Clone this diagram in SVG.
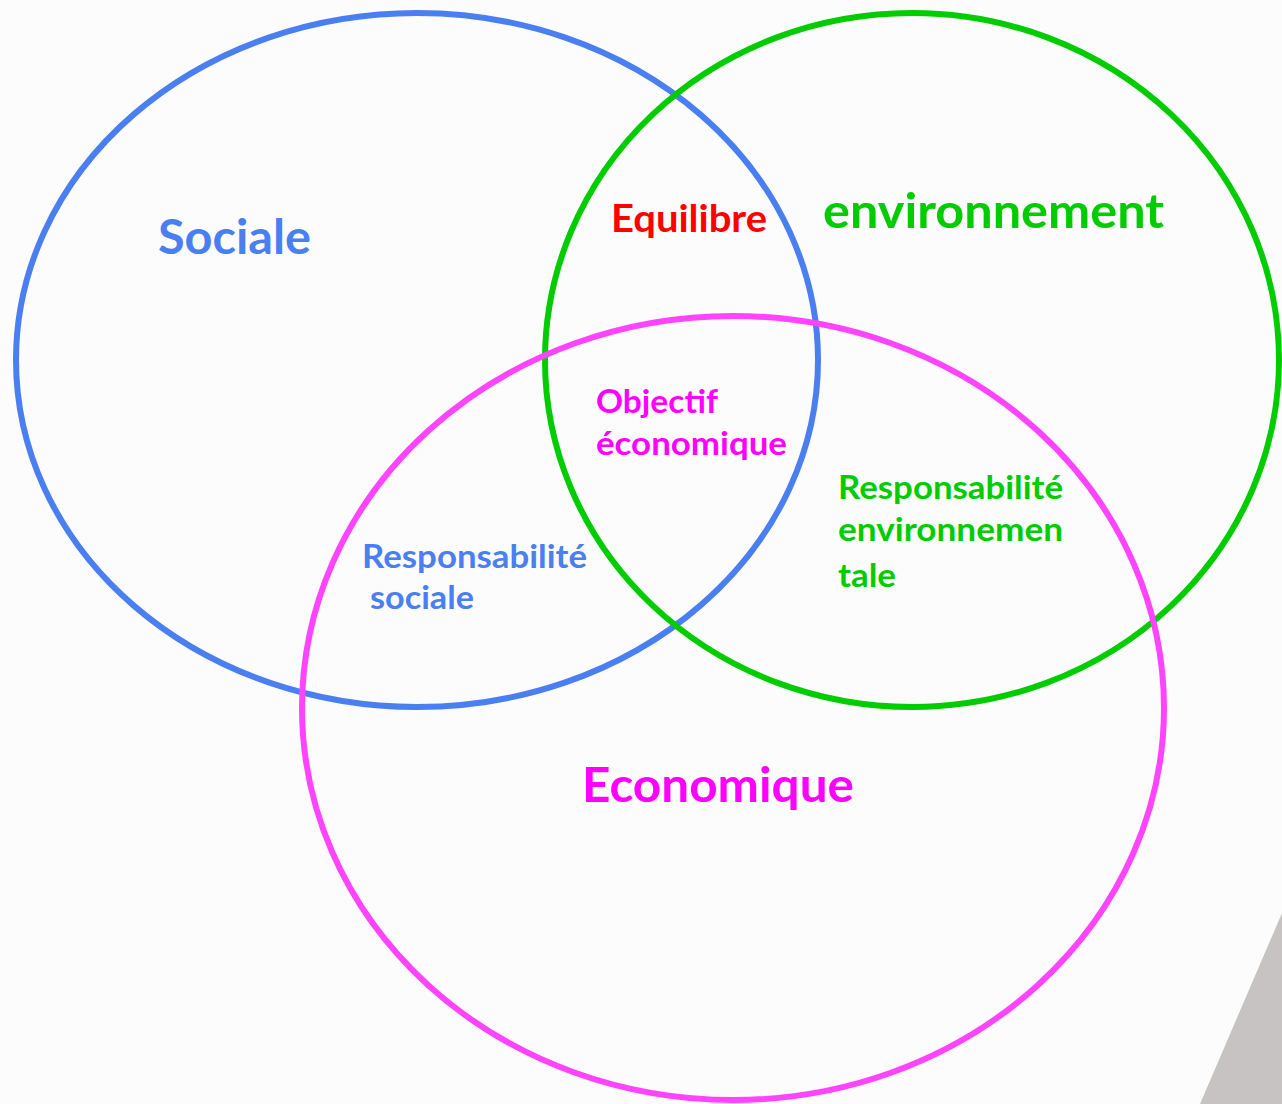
<svg xmlns="http://www.w3.org/2000/svg" width="1282" height="1104" viewBox="0 0 1282 1104">
<style>
.c{fill:none;stroke-width:6}
.t{font-family:Lato,"Open Sans","Liberation Sans",sans-serif;font-weight:bold}
.big{font-size:47px}
.mid{font-size:33px}
</style>
<rect width="1282" height="1104" fill="#fcfcfc"/>
<polygon points="1282,913 1282,1104 1200,1104" fill="#c8c3c3"/>
<g id="sociale">
<ellipse class="c" cx="417" cy="360" rx="401" ry="347" stroke="#4a7ff2"/>
<text class="t big" x="158" y="254" fill="#4a7ff2" textLength="153" lengthAdjust="spacingAndGlyphs">Sociale</text>
</g>
<g id="environnement">
<ellipse class="c" cx="912" cy="360" rx="367" ry="347" stroke="#00cc00"/>
<text class="t big" x="823" y="228" fill="#00cc00" textLength="341" lengthAdjust="spacingAndGlyphs">environnement</text>
</g>
<g id="economique">
<ellipse class="c" cx="733" cy="708" rx="431" ry="392" stroke="#ff44ff"/>
<text class="t big" x="582" y="802" fill="#ff00ff" textLength="272" lengthAdjust="spacingAndGlyphs">Economique</text>
</g>
<g id="equilibre">
<text class="t" style="font-size:38px" x="611" y="232" fill="#ff0000" textLength="156" lengthAdjust="spacingAndGlyphs">Equilibre</text>
</g>
<g id="objectif">
<text class="t mid" x="596" y="413" fill="#ff00ff" textLength="122" lengthAdjust="spacingAndGlyphs">Objectif</text>
<text class="t mid" x="596" y="455" fill="#ff00ff" textLength="191" lengthAdjust="spacingAndGlyphs">économique</text>
</g>
<g id="resp-env">
<text class="t mid" x="838" y="499" fill="#00cc00" textLength="225" lengthAdjust="spacingAndGlyphs">Responsabilité</text>
<text class="t mid" x="838" y="541" fill="#00cc00" textLength="225" lengthAdjust="spacingAndGlyphs">environnemen</text>
<text class="t mid" x="838" y="587" fill="#00cc00" textLength="58" lengthAdjust="spacingAndGlyphs">tale</text>
</g>
<g id="resp-soc">
<text class="t mid" x="362" y="568" fill="#4a7ff2" textLength="225" lengthAdjust="spacingAndGlyphs">Responsabilité</text>
<text class="t mid" x="370" y="609" fill="#4a7ff2" textLength="104" lengthAdjust="spacingAndGlyphs">sociale</text>
</g>
<g id="connectors"/>
</svg>
